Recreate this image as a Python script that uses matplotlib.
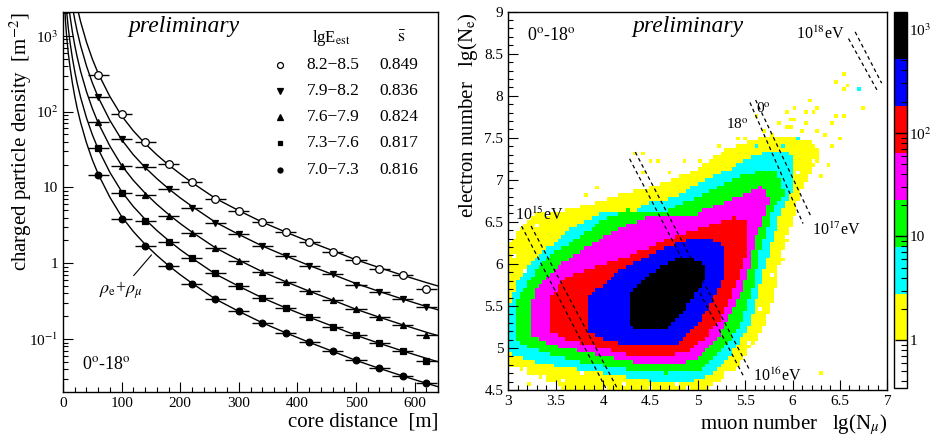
import numpy as np
import matplotlib
matplotlib.use("Agg")
import matplotlib.pyplot as plt
from matplotlib.path import Path
from matplotlib.colors import ListedColormap, LogNorm
from matplotlib.ticker import MultipleLocator, LogLocator, NullFormatter

plt.rcParams['font.family'] = ['Liberation Serif', 'DejaVu Serif']
plt.rcParams['mathtext.fontset'] = 'stix'

# ---- left panel: lateral distributions -------------------------------------
r_data = [60, 100, 140, 180, 220, 260, 300, 340, 380, 420, 460, 500, 540, 580, 620]
rho_82_85 = [305, 93, 39.5, 20.6, 11.9, 7.1, 4.9, 3.45, 2.56, 1.89, 1.42, 1.10, 0.84, 0.695, 0.458]
rho_79_82 = [158, 43.6, 18.8, 9.47, 5.42, 3.43, 2.41, 1.68, 1.25, 0.93, 0.72, 0.52, 0.42, 0.335, 0.263]
rho_76_79 = [72.5, 19.2, 7.95, 4.2, 2.49, 1.58, 1.07, 0.775, 0.57, 0.435, 0.331, 0.252, 0.198, 0.152, 0.113]
rho_73_76 = [32.9, 8.4, 3.65, 1.93, 1.16, 0.738, 0.507, 0.352, 0.255, 0.194, 0.146, 0.113, 0.088, 0.0697, 0.0519]
rho_70_73 = [14.6, 3.8, 1.69, 0.93, 0.533, 0.338, 0.235, 0.165, 0.122, 0.0907, 0.0697, 0.053, 0.042, 0.0326, 0.0264]

# fitted lateral distribution functions
r_fit = [2.5, 4, 6, 9, 12, 16, 20, 24, 30, 40, 50, 60, 80, 100, 120, 140, 160, 180,
         200, 220, 260, 300, 340, 380, 420, 460, 500, 540, 580, 620, 640]
fit_82_85 = [59600, 35100, 21600, 12500, 8150, 5070, 3390, 2400, 1535, 828, 495, 320, 158, 88.1,
             55.8, 38.0, 27.0, 19.9, 15.1, 11.6, 7.19, 4.95, 3.49, 2.58, 1.93, 1.47, 1.11, 0.875,
             0.693, 0.556, 0.501]
fit_79_82 = [28800, 17000, 10500, 6070, 3940, 2450, 1640, 1160, 743, 401, 240, 155, 76.6, 42.7,
             27.0, 18.4, 13.1, 9.64, 7.29, 5.64, 3.48, 2.40, 1.69, 1.25, 0.935, 0.713, 0.540, 0.424,
             0.336, 0.269, 0.243]
fit_76_79 = [13200, 7780, 4800, 2780, 1810, 1120, 752, 532, 340, 184, 110, 71.0, 35.1, 19.5,
             12.4, 8.43, 6.0, 4.42, 3.34, 2.58, 1.60, 1.10, 0.774, 0.571, 0.429, 0.327, 0.247,
             0.194, 0.154, 0.123, 0.111]
fit_73_76 = [5970, 3520, 2170, 1260, 817, 508, 340, 240, 154, 83.0, 49.7, 32.1, 15.8, 8.83,
             5.60, 3.81, 2.71, 2.0, 1.51, 1.17, 0.721, 0.497, 0.350, 0.258, 0.194, 0.148, 0.112,
             0.0877, 0.0695, 0.0557, 0.0502]
fit_70_73 = [2790, 1640, 1010, 587, 382, 238, 159, 112, 71.9, 38.8, 23.2, 15.0, 7.41, 4.13,
             2.62, 1.78, 1.27, 0.933, 0.706, 0.546, 0.337, 0.232, 0.164, 0.121, 0.0906, 0.069,
             0.0522, 0.041, 0.0325, 0.0261, 0.0235]

energy_bins = ['8.2\u22128.5', '7.9\u22128.2', '7.6\u22127.9', '7.3\u22127.6', '7.0\u22127.3']
s_mean = ['0.849', '0.836', '0.824', '0.817', '0.816']

# ---- right panel: lg(Ne) vs lg(Nmu) histogram -------------------------------
level_counts = [1, 4, 15, 40, 100, 300, 1000]   # yellow ... black
poly_yellow = [(3.0, 4.8), (3.0, 6.2), (3.09, 6.36), (3.3, 6.6), (3.55, 6.62), (3.83, 6.7),
               (4.18, 6.82), (4.6, 6.95), (4.95, 7.1), (5.2, 7.3), (5.45, 7.42), (5.66, 7.5),
               (6.0, 7.52), (6.2, 7.45), (6.3, 7.3), (6.1, 6.9), (6.01, 6.52),
               (5.87, 6.08), (5.8, 5.57), (5.66, 5.17), (5.41, 4.77), (5.23, 4.62), (5.1, 4.5),
               (3.6, 4.5), (3.45, 4.6), (3.2, 4.7)]
poly_cyan = [(3.0, 5.0), (3.0, 5.44), (3.09, 5.77), (3.26, 6.04), (3.47, 6.24), (3.69, 6.44),
             (3.97, 6.6), (4.32, 6.6), (4.46, 6.72), (4.78, 6.8), (4.95, 6.92), (5.16, 7.04),
             (5.37, 7.14), (5.48, 7.24), (5.66, 7.3), (5.8, 7.36), (5.98, 7.3), (6.02, 6.92),
             (5.87, 6.6), (5.76, 6.16), (5.66, 5.77), (5.55, 5.29), (5.41, 5.01), (5.16, 4.7),
             (4.95, 4.6), (4.53, 4.6), (4.14, 4.68), (3.72, 4.75), (3.37, 4.81), (3.05, 4.93)]
poly_green = [(3.07, 5.1), (3.07, 5.5), (3.16, 5.69), (3.3, 5.93), (3.51, 6.16), (3.76, 6.32),
              (4.0, 6.52), (4.25, 6.64), (4.6, 6.6), (4.74, 6.68), (5.02, 6.8), (5.23, 6.92),
              (5.45, 7.04), (5.66, 7.1), (5.83, 7.1), (5.92, 6.84), (5.8, 6.68), (5.66, 6.16),
              (5.59, 5.77), (5.45, 5.29), (5.31, 5.05), (5.02, 4.73), (4.67, 4.7), (4.32, 4.73),
              (3.9, 4.81), (3.55, 4.89), (3.23, 5.01)]
poly_magenta = [(3.25, 5.13), (3.25, 5.55), (3.3, 5.73), (3.51, 5.96), (3.83, 6.2), (4.14, 6.4),
                (4.46, 6.56), (4.95, 6.56), (5.09, 6.66), (5.45, 6.8), (5.59, 6.88), (5.67, 6.92),
                (5.76, 6.76), (5.59, 6.24), (5.52, 5.85), (5.37, 5.45), (5.2, 5.09), (4.95, 4.85),
                (4.6, 4.79), (4.25, 4.85), (3.9, 4.93), (3.55, 5.01)]
poly_red = [(3.44, 5.2), (3.44, 5.6), (3.62, 5.85), (3.9, 5.96), (4.25, 6.08), (4.74, 6.32),
            (5.1, 6.45), (5.38, 6.55), (5.52, 6.52), (5.52, 6.16), (5.41, 5.77), (5.27, 5.41),
            (5.09, 5.13), (4.88, 4.95), (4.6, 4.89), (4.36, 4.89), (3.97, 5.01), (3.65, 5.09)]
poly_blue = [(3.83, 5.2), (3.83, 5.62), (3.97, 5.72), (4.15, 5.9), (4.4, 6.05), (4.65, 6.2),
             (4.9, 6.28), (5.15, 6.3), (5.27, 6.2), (5.27, 5.85), (5.2, 5.65), (5.1, 5.45),
             (4.95, 5.22), (4.78, 5.05), (4.6, 5.02), (4.35, 5.02), (4.1, 5.08), (3.95, 5.12)]
poly_black = [(4.27, 5.35), (4.27, 5.62), (4.35, 5.75), (4.45, 5.85), (4.6, 5.95), (4.75, 6.05),
              (4.87, 6.08), (5.0, 6.03), (5.08, 5.95), (5.08, 5.82), (5.0, 5.68), (4.92, 5.55),
              (4.82, 5.38), (4.7, 5.25), (4.55, 5.2), (4.38, 5.2), (4.3, 5.27)]

# isolated single-count cells outside the main body
yellow_x = [6.54, 6.46, 6.54, 6.57, 6.74, 6.18, 6.01, 5.94, 6.27, 6.22, 6.14, 6.47, 6.55, 6.01,
            6.41, 5.94, 4.34, 4.5, 4.58, 4.85, 5.02, 5.22, 5.31, 5.41, 6.15, 4.41, 4.69, 5.11,
            6.5, 5.92, 5.9, 6.31, 3.21, 3.93, 3.83, 6.36, 6.3, 5.97, 5.62, 4.41, 5.78, 6.08,
            6.34, 5.5, 6.12, 6.4, 5.86, 5.7, 6.25, 5.99]
yellow_y = [8.27, 8.17, 8.08, 8.11, 7.87, 7.96, 7.87, 7.82, 7.85, 7.82, 7.79, 7.77, 7.75, 7.72,
            7.67, 7.62, 7.31, 7.21, 7.21, 7.21, 7.21, 7.41, 7.37, 7.47, 7.81, 7.08, 7.08, 7.17,
            7.51, 6.28, 6.06, 4.68, 4.58, 6.92, 6.82, 7.18, 7.05, 7.72, 7.74, 7.29, 7.55, 7.6,
            7.55, 7.5, 7.68, 7.42, 7.66, 7.58, 7.58, 7.64]
cyan_x = [6.71, 5.88, 6.06, 5.62]
cyan_y = [8.07, 7.42, 7.47, 7.4]

# empty cells inside the fringe of the distribution
hole_x = [3.42, 3.18, 3.1, 3.04, 3.02, 3.18, 3.39, 3.56, 3.77, 4.2, 4.48, 4.76, 5.52, 5.66,
          5.76, 4.6, 4.95, 3.97, 3.65, 3.06, 3.3, 4.02, 4.9, 5.3, 5.95, 6.2, 3.5, 4.3, 5.8, 6.05]
hole_y = [6.6, 5.93, 5.69, 5.57, 4.97, 4.73, 4.66, 4.62, 4.7, 4.56, 4.54, 4.58, 5.05, 5.45,
          5.85, 7.0, 7.15, 6.76, 6.68, 6.1, 6.45, 4.52, 4.52, 4.7, 6.3, 7.2, 4.55, 6.9, 5.3, 7.1]

# energy lines (0 and 18 deg) and their labels
eline_x = [[3.14, 4.03], [3.24, 4.15], [4.28, 5.48], [4.34, 5.55],
           [5.55, 6.11], [5.61, 6.2], [6.59, 6.89], [6.66, 6.94]]
eline_y = [[6.45, 4.52], [6.45, 4.52], [7.25, 4.67], [7.33, 4.73],
           [7.92, 6.48], [7.95, 6.55], [8.68, 8.07], [8.76, 8.15]]

fig = plt.figure(figsize=(9.38, 4.36), dpi=100)
ax1 = fig.add_axes([0.0672, 0.1016, 0.3998, 0.8716])
ax2 = fig.add_axes([0.5419, 0.1055, 0.4041, 0.8677])
cax = fig.add_axes([0.9531, 0.1101, 0.0135, 0.8631])

tick_kw = dict(direction='in', labelsize=11, top=False, right=False)

# -- left
series = [(rho_82_85, fit_82_85, 'o', 'white', 5.5),
          (rho_79_82, fit_79_82, 'v', 'black', 5),
          (rho_76_79, fit_76_79, '^', 'black', 5),
          (rho_73_76, fit_73_76, 's', 'black', 4.5),
          (rho_70_73, fit_70_73, 'o', 'black', 4.8)]
for rho, fit, mk, fc, ms in series:
    ax1.plot(r_fit, fit, color='black', lw=1.0)
    ax1.errorbar(r_data, rho, xerr=18, fmt=mk, mfc=fc, mec='black', ms=ms, mew=0.9,
                 ecolor='black', elinewidth=1.0, capsize=0, zorder=3)

ax1.set_yscale('log')
ax1.set_xlim(0, 640)
ax1.set_ylim(0.0202, 2085)
ax1.set_xticks(range(0, 601, 100))
ax1.xaxis.set_minor_locator(MultipleLocator(20))
ax1.set_yticks([0.1, 1, 10, 100, 1000], labels=['10$^{-1}$', '1', '10', '10$^{2}$', '10$^{3}$'])
ax1.yaxis.set_minor_locator(LogLocator(subs=range(2, 10)))
ax1.yaxis.set_minor_formatter(NullFormatter())
ax1.tick_params(which='major', length=7, width=0.8, **tick_kw)
ax1.tick_params(which='minor', length=3.5, width=0.8, direction='in', top=False, right=False)
ax1.set_xlabel('core distance  [m]', fontsize=15, loc='right')
ax1.xaxis.set_label_coords(1.0, -0.056)
ax1.set_ylabel('charged particle density  [m$^{-2}$]', fontsize=15, loc='top')
ax1.yaxis.set_label_coords(-0.078, 1.0)

ax1.text(0.323, 0.962, 'preliminary', style='italic', fontsize=17, transform=ax1.transAxes,
         ha='center', va='center')
ax1.text(0.115, 0.071, '0$^{\\rm o}$-18$^{\\rm o}$', fontsize=13, transform=ax1.transAxes,
         ha='center', va='center')
ax1.annotate('$\\rho_{\\rm e}$+$\\rho_{\\mu}$', xy=(151, 1.29), xytext=(99, 0.44), fontsize=13,
             ha='center', va='center', arrowprops=dict(arrowstyle='-', lw=0.8, shrinkA=1, shrinkB=0))

# legend drawn as a small table
row_y = [0.861, 0.792, 0.724, 0.654, 0.584]
ax1.text(0.716, 0.931, 'lgE$_{\\rm est}$', fontsize=12, transform=ax1.transAxes, ha='center', va='center')
ax1.text(0.903, 0.931, '$\\bar{\\rm s}$', fontsize=13, transform=ax1.transAxes, ha='center', va='center')
for (rho, fit, mk, fc, ms), lab, sv, yy in zip(series, energy_bins, s_mean, row_y):
    ax1.plot([0.579], [yy], marker=mk, mfc=fc, mec='black', ms=ms - 1.2, mew=0.9,
             transform=ax1.transAxes, ls='none')
    ax1.text(0.65, yy, lab, fontsize=12.5, transform=ax1.transAxes, va='center')
    ax1.text(0.843, yy, sv, fontsize=12.5, transform=ax1.transAxes, va='center')

# -- right
xe = np.linspace(3, 7, 101)
ye = np.linspace(4.5, 9, 101)
xc, yc = np.meshgrid((xe[:-1] + xe[1:]) / 2, (ye[:-1] + ye[1:]) / 2)
pts = np.column_stack([xc.ravel(), yc.ravel()])
level = np.zeros(xc.size, dtype=int)
polys = [poly_yellow, poly_cyan, poly_green, poly_magenta, poly_red, poly_blue, poly_black]
for k, poly in enumerate(polys, start=1):
    level[Path(poly).contains_points(pts)] = k
level = level.reshape(xc.shape)
for k, (ox, oy) in enumerate([(yellow_x, yellow_y), (cyan_x, cyan_y)], start=1):
    h, _, _ = np.histogram2d(ox, oy, bins=[xe, ye])
    level[(h.T > 0) & (level < k)] = k
h, _, _ = np.histogram2d(hole_x, hole_y, bins=[xe, ye])
level[(h.T > 0) & (level <= 1)] = 0
counts = np.array([0] + level_counts, dtype=float)[level]
counts = np.ma.masked_where(counts <= 0, counts)

cmap = ListedColormap(['white', '#ffff00', '#00ffff', '#00ff00', '#ff00ff', '#ff0000',
                       '#0000ff', '#000000'])
norm = LogNorm(vmin=0.344, vmax=1476)
mesh = ax2.pcolormesh(xe, ye, counts, cmap=cmap, norm=norm)

for lx, ly in zip(eline_x, eline_y):
    ax2.plot(lx, ly, color='black', lw=0.9, ls=(0, (3, 2.5)))

ax2.set_xlim(3, 7)
ax2.set_ylim(4.5, 9)
ax2.xaxis.set_major_locator(MultipleLocator(0.5))
ax2.xaxis.set_minor_locator(MultipleLocator(0.1))
ax2.yaxis.set_major_locator(MultipleLocator(0.5))
ax2.yaxis.set_minor_locator(MultipleLocator(0.1))
ax2.xaxis.set_major_formatter(lambda v, p: f'{v:g}')
ax2.yaxis.set_major_formatter(lambda v, p: f'{v:g}')
ax2.tick_params(which='major', length=7, width=0.8, **tick_kw)
ax2.tick_params(which='minor', length=3.5, width=0.8, direction='in', top=False, right=False)
ax2.set_xlabel('muon number   lg(N$_{\\mu}$)', fontsize=15, loc='right')
ax2.xaxis.set_label_coords(1.0, -0.058)
ax2.set_ylabel('electron number   lg(N$_{\\rm e}$)', fontsize=15, loc='top')
ax2.yaxis.set_label_coords(-0.075, 1.0)

ax2.text(4.9, 8.82, 'preliminary', style='italic', fontsize=17, ha='center', va='center')
ax2.text(3.2, 8.72, '0$^{\\rm o}$-18$^{\\rm o}$', fontsize=13, ha='left', va='center')
ax2.text(3.07, 6.58, '10$^{15}$eV', fontsize=11.5, ha='left', va='center')
ax2.text(5.58, 4.67, '10$^{16}$eV', fontsize=11.5, ha='left', va='center')
ax2.text(6.2, 6.4, '10$^{17}$eV', fontsize=11.5, ha='left', va='center')
ax2.text(6.55, 8.73, '10$^{18}$eV', fontsize=11.5, ha='right', va='center')
ax2.text(5.42, 7.66, '18$^{\\rm o}$', fontsize=11, ha='center', va='center')
ax2.text(5.69, 7.85, '0$^{\\rm o}$', fontsize=11, ha='center', va='center')

for ax in (ax1, ax2):
    for sp in ax.spines.values():
        sp.set_linewidth(1.0)

cb = fig.colorbar(mesh, cax=cax)
cb.outline.set_linewidth(1.0)
cb.set_ticks([1, 10, 100, 1000], labels=['1', '10', '10$^{2}$', '10$^{3}$'])
cb.minorticks_on()
cax.tick_params(which='major', direction='in', length=9, width=1.0, labelsize=11, pad=2,
                right=True, left=False)
cax.tick_params(which='minor', direction='in', length=4, width=0.8, right=True, left=False)

fig.savefig('out.png', dpi=100)
